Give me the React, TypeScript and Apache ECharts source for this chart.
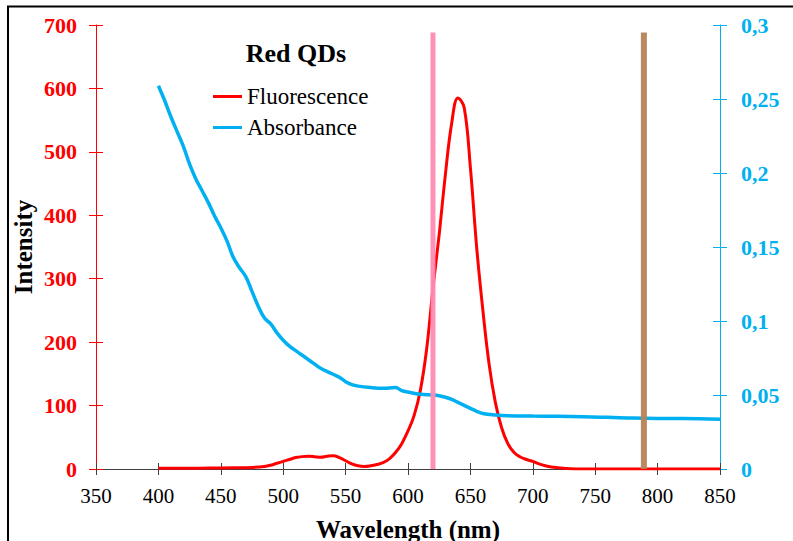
import React, { useEffect, useRef } from "react";
import * as echarts from "echarts";

// Fluorescence emission spectrum (left axis, intensity)
const fluoWavelengths = [
  400, 420, 440, 460, 475, 485, 490, 495, 500, 505, 510, 515, 520, 525, 530, 535, 540, 545,
  550, 555, 560, 565, 570, 575, 580, 585, 590, 595, 600, 605, 610, 615, 620, 625, 630, 635,
  640, 645, 650, 655, 660, 665, 670, 675, 680, 685, 690, 695, 700, 705, 710, 715, 720, 730,
  740, 760, 800, 850,
];
const fluoValues = [
  1, 1, 1.5, 2, 2.5, 4, 6, 9, 12, 15, 18, 19.5, 20, 19.5, 18.5, 20, 21, 18,
  13, 8, 5, 4, 5, 7, 10, 16, 26, 40, 60, 85, 125, 190, 285, 370, 465, 545,
  585, 570, 475, 350, 250, 165, 105, 65, 40, 26, 19, 15, 12, 8, 5, 3, 2, 0.5,
  0, 0, 0, 0,
];

// Absorbance spectrum (right axis)
const absWavelengths = [
  400, 405, 410, 415, 420, 425, 430, 435, 440, 445, 450, 455, 460, 465, 470, 475, 480, 485,
  490, 495, 500, 505, 510, 515, 520, 525, 530, 535, 540, 545, 550, 555, 560, 570, 580, 590,
  595, 600, 610, 620, 625, 630, 635, 640, 645, 650, 655, 660, 670, 680, 700, 720, 740, 760,
  780, 800, 820, 850,
];
const absValues = [
  0.259, 0.249, 0.238, 0.228, 0.218, 0.206, 0.196, 0.188, 0.18, 0.171, 0.163, 0.154, 0.143,
  0.136, 0.13, 0.12, 0.11, 0.102, 0.098, 0.092, 0.087, 0.083, 0.08, 0.077, 0.074, 0.071,
  0.068, 0.066, 0.064, 0.062, 0.059, 0.057, 0.056, 0.055, 0.0545, 0.055, 0.053, 0.052,
  0.0505, 0.05, 0.0495, 0.0485, 0.047, 0.045, 0.043, 0.041, 0.039, 0.0375, 0.0365, 0.036,
  0.0358, 0.0356, 0.0353, 0.035, 0.0344, 0.0342, 0.0342, 0.0336,
];

// Vertical marker lines (wavelength, nm) and their common height on the intensity scale
const markerWavelengths = [620, 789];
const markerColors = ["#FF8AB3", "#B5835A"];
const markerWidths = [5, 6];
const markerTop = 688;

const xTicks = { min: 350, max: 850, step: 50 };
const intensityTicks = { min: 0, max: 700, step: 100 };
const absTicks = { min: 0, max: 0.3, step: 0.05 };

const serif = "Liberation Serif";
const RED = "#FF0000";
const CYAN = "#00B0F0";
const AXIS_DARK = "#404040";

export default function App() {
  const ref = useRef<HTMLDivElement>(null);

  useEffect(() => {
    if (!ref.current) return;
    const chart = echarts.init(ref.current, undefined, { renderer: "svg" });

    const fluoData = fluoWavelengths.map((w, i) => [w, fluoValues[i]]);
    const absData = absWavelengths.map((w, i) => [w, absValues[i]]);

    const markerSeries = markerWavelengths.map((w, i) => ({
      type: "line",
      xAxisIndex: 0,
      yAxisIndex: 0,
      data: [
        [w, 0],
        [w, markerTop],
      ],
      symbol: "none",
      silent: true,
      z: 5,
      lineStyle: { color: markerColors[i], width: markerWidths[i], opacity: 0.95, cap: "butt" },
    }));

    const hidden = { show: false };

    chart.setOption({
      animation: false,
      backgroundColor: "#ffffff",
      textStyle: { fontFamily: serif },
      grid: { left: 96, right: 73, top: 25, bottom: 72, containLabel: false },
      legend: {
        data: ["Fluorescence", "Absorbance"],
        orient: "vertical",
        left: 213,
        top: 85,
        padding: 0,
        icon: "rect",
        itemWidth: 29,
        itemHeight: 3,
        itemGap: 8,
        textStyle: { fontFamily: serif, fontSize: 23, color: "#000" },
      },
      graphic: [
        {
          type: "rect",
          shape: { x: 8, y: 6.5, width: 820, height: 560 },
          style: { fill: "none", stroke: "#000", lineWidth: 2 },
          silent: true,
        },
        {
          type: "text",
          x: 296,
          y: 53,
          style: {
            text: "Red QDs",
            fontFamily: serif,
            fontSize: 26,
            fontWeight: "bold",
            fill: "#000",
            align: "center",
            verticalAlign: "middle",
          },
        },
        {
          type: "text",
          x: 23,
          y: 247,
          rotation: Math.PI / 2,
          style: {
            text: "Intensity",
            fontFamily: serif,
            fontSize: 25,
            fontWeight: "bold",
            fill: "#000",
            align: "center",
            verticalAlign: "middle",
          },
        },
        {
          type: "text",
          x: 408,
          y: 529,
          style: {
            text: "Wavelength (nm)",
            fontFamily: serif,
            fontSize: 25,
            fontWeight: "bold",
            fill: "#000",
            align: "center",
            verticalAlign: "middle",
          },
        },
      ],
      xAxis: [
        {
          type: "value",
          position: "bottom",
          min: xTicks.min,
          max: xTicks.max,
          interval: xTicks.step,
          axisLine: { lineStyle: { color: AXIS_DARK, width: 1 } },
          axisTick: { length: 6, lineStyle: { color: AXIS_DARK } },
          axisLabel: { color: "#000", fontSize: 21, fontFamily: serif, margin: 16 },
          splitLine: hidden,
        },
        {
          type: "value",
          position: "bottom",
          min: xTicks.min,
          max: xTicks.max,
          interval: xTicks.step,
          axisLine: hidden,
          axisTick: { inside: true, length: 6, lineStyle: { color: AXIS_DARK } },
          axisLabel: hidden,
          splitLine: hidden,
        },
        {
          type: "value",
          position: "top",
          min: xTicks.min,
          max: xTicks.max,
          axisLine: { lineStyle: { color: AXIS_DARK, width: 1 } },
          axisTick: hidden,
          axisLabel: hidden,
          splitLine: hidden,
        },
      ],
      yAxis: [
        {
          type: "value",
          position: "left",
          min: intensityTicks.min,
          max: intensityTicks.max,
          interval: intensityTicks.step,
          axisLine: { show: true, lineStyle: { color: RED, width: 1 } },
          axisTick: { show: true, length: 7, lineStyle: { color: RED } },
          axisLabel: { color: RED, fontSize: 22, fontWeight: "bold", fontFamily: serif, margin: 19 },
          splitLine: hidden,
        },
        {
          type: "value",
          position: "right",
          min: absTicks.min,
          max: absTicks.max,
          interval: absTicks.step,
          axisLine: { show: true, lineStyle: { color: CYAN, width: 1 } },
          axisTick: { show: true, length: 7, lineStyle: { color: CYAN } },
          axisLabel: {
            color: CYAN,
            fontSize: 22,
            fontWeight: "bold",
            fontFamily: serif,
            margin: 21,
            formatter: (v: number) => String(Math.round(v * 100) / 100).replace(".", ","),
          },
          splitLine: hidden,
        },
        {
          type: "value",
          position: "left",
          min: intensityTicks.min,
          max: intensityTicks.max,
          interval: intensityTicks.step,
          axisLine: hidden,
          axisTick: { show: true, inside: true, length: 7, lineStyle: { color: RED } },
          axisLabel: hidden,
          splitLine: hidden,
        },
        {
          type: "value",
          position: "right",
          min: absTicks.min,
          max: absTicks.max,
          interval: absTicks.step,
          axisLine: hidden,
          axisTick: { show: true, inside: true, length: 7, lineStyle: { color: CYAN } },
          axisLabel: hidden,
          splitLine: hidden,
        },
      ],
      series: [
        {
          name: "Fluorescence",
          type: "line",
          xAxisIndex: 0,
          yAxisIndex: 0,
          data: fluoData,
          symbol: "none",
          smooth: 0.4,
          z: 3,
          itemStyle: { color: RED },
          lineStyle: { color: RED, width: 3 },
        },
        {
          name: "Absorbance",
          type: "line",
          xAxisIndex: 0,
          yAxisIndex: 1,
          data: absData,
          symbol: "none",
          smooth: 0.4,
          z: 4,
          itemStyle: { color: CYAN },
          lineStyle: { color: CYAN, width: 3.5 },
        },
        ...markerSeries,
      ],
    });

    return () => chart.dispose();
  }, []);

  return (
    <div
      ref={ref}
      style={{ position: "fixed", left: 0, top: 0, width: 793, height: 541, background: "#fff" }}
    />
  );
}
